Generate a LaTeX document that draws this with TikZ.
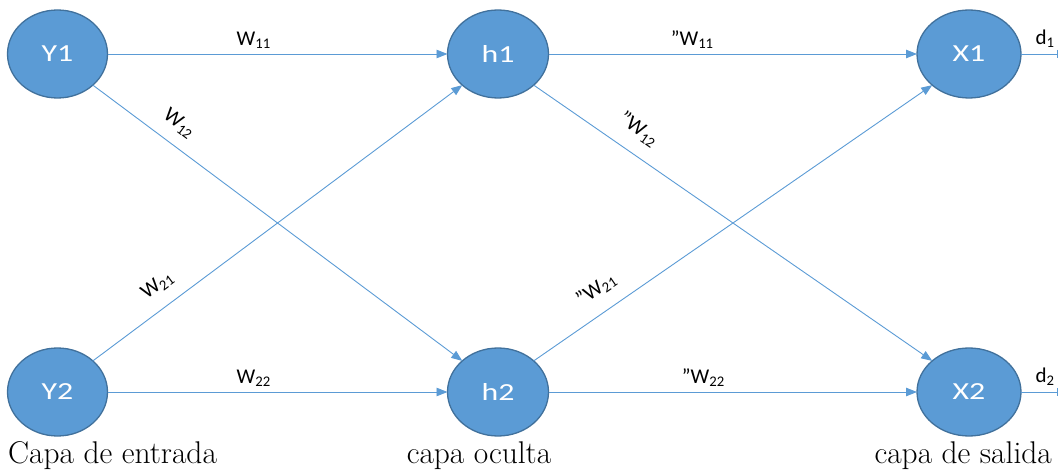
\documentclass[tikz,border=0pt]{standalone}
\usepackage{fontspec}
\newfontfamily\calfont{Carlito}
\usetikzlibrary{shapes.geometric,arrows.meta}
\definecolor{nodeblue}{HTML}{5B9BD5}
\definecolor{nodeedge}{HTML}{41719C}
\newcommand\nlab[1]{\scalebox{1.3}[1]{#1}}
\begin{document}
\begin{tikzpicture}[x=1pt,y=-1pt,
  neuron/.style={ellipse, fill=nodeblue, draw=nodeedge, line width=1.3pt,
    minimum width=100pt, minimum height=88pt, inner sep=0pt, outer sep=0pt,
    text=white, font=\calfont\fontsize{24.5}{27}\selectfont},
  conn/.style={draw=nodeblue, line width=0.9pt, -{Triangle[length=11pt,width=8.5pt]}},
  outl/.style={draw=nodeblue, line width=0.9pt, -{Bar[width=8pt]}},
  wlab/.style={font=\calfont\fontsize{21}{23}\selectfont, inner sep=0pt, text=black},
  layer/.style={font=\rmfamily\fontsize{31.4}{34}\selectfont, inner sep=0pt, text=black}
]
\useasboundingbox (0,0) rectangle (1058,473);
% neurons
\node[neuron] (Y1) at (57.5,54) {\nlab{Y1}};
\node[neuron] (Y2) at (57.5,392) {\nlab{Y2}};
\node[neuron, minimum width=101pt] (h1) at (498,54) {\nlab{h1}};
\node[neuron, minimum width=101pt] (h2) at (498,392) {\nlab{h2}};
\node[neuron, minimum width=104pt] (X1) at (969,54) {\nlab{X1}};
\node[neuron, minimum width=104pt] (X2) at (969,392) {\nlab{X2}};
% outputs
\coordinate (o1) at (1057.4,54);
\coordinate (o2) at (1057.4,392);
% input -> hidden
\draw[conn] (Y1.east) -- node[wlab, pos=.43, above=5pt] {W\textsubscript{11}} (h1.west);
\draw[conn] (Y1.south east) -- node[wlab, pos=.2, sloped, above=12pt] {W\textsubscript{12}} (h2.north west);
\draw[conn] (Y2.north east) -- node[wlab, pos=.21, sloped, above=13pt] {W\textsubscript{21}} (h1.south west);
\draw[conn] (Y2.east) -- node[wlab, pos=.43, above=5pt] {W\textsubscript{22}} (h2.west);
% hidden -> output
\draw[conn] (h1.east) -- node[wlab, pos=.39, above=5pt] {”W\textsubscript{11}} (X1.west);
\draw[conn] (h1.south east) -- node[wlab, pos=.23, sloped, above=14pt] {”W\textsubscript{12}} (X2.north west);
\draw[conn] (h2.north east) -- node[wlab, pos=.19, sloped, above=14pt] {”W\textsubscript{21}} (X1.south west);
\draw[conn] (h2.east) -- node[wlab, pos=.42, above=5pt] {”W\textsubscript{22}} (X2.west);
% outputs
\draw[outl] (X1.east) -- node[wlab, pos=.66, above=6pt] {d\textsubscript{1}} (o1);
\draw[outl] (X2.east) -- node[wlab, pos=.66, above=6pt] {d\textsubscript{2}} (o2);
% layer captions
\node[layer, anchor=base west] (capin) at (8,463) {Capa de entrada};
\node[layer, anchor=base] (caphid) at (479,463) {capa oculta};
\node[layer, anchor=base east] (capout) at (1052,463) {capa de salida};
\end{tikzpicture}
\end{document}
